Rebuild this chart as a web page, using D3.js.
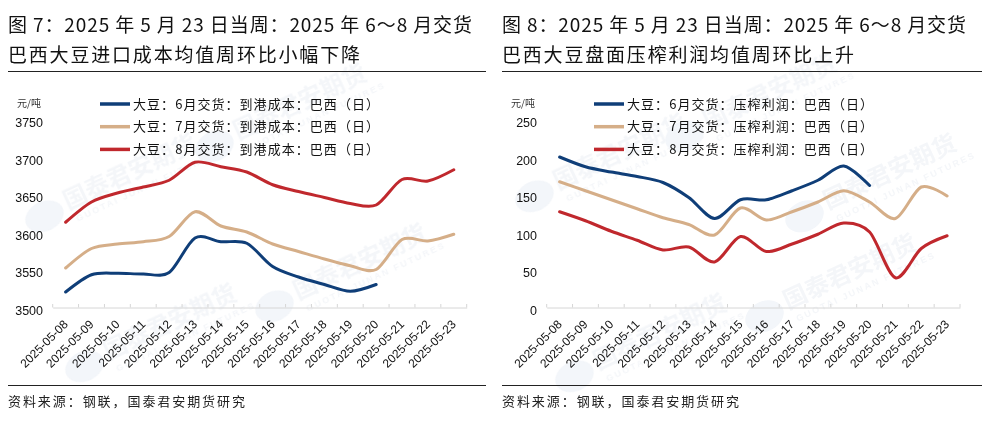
<!DOCTYPE html>
<html><head><meta charset="utf-8">
<script src="https://cdn.jsdelivr.net/npm/d3@7"></script>
<style>
html,body{margin:0;padding:0;background:#fff;}
svg{display:block;}
</style></head>
<body>
<svg id="c" width="988" height="426"></svg>
<script>
// ---- data ----
const dates = ["2025-05-08","2025-05-09","2025-05-10","2025-05-11","2025-05-12","2025-05-13","2025-05-14","2025-05-15","2025-05-16","2025-05-17","2025-05-18","2025-05-19","2025-05-20","2025-05-21","2025-05-22","2025-05-23"];
const costJun = [3520,3543,3545,3544,3546,3592,3587,3585,3554,3540,3530,3521,3530,null,null,null];
const costJul = [3552,3578,3584,3587,3594,3627,3608,3600,3584,3574,3564,3555,3550,3590,3588,3597];
const costAug = [3613,3640,3652,3660,3669,3693,3687,3680,3663,3654,3646,3638,3636,3670,3668,3683];
const profJun = [200,187,180,174,166,146,118,143,143,155,169,188,162,null,null,null];
const profJul = [167,155,143,131,119,110,96,132,116,127,140,155,140,118,160,148];
const profAug = [127,115,101,89,76,80,60,94,74,84,97,112,100,39,78,95];
const costTicks = [3500,3550,3600,3650,3700,3750];
const profTicks = [0,50,100,150,200,250];
const colors = ["#0f3e78","#d5ae88","#c0282d"];
const costNames = ["大豆：6月交货：到港成本：巴西（日）","大豆：7月交货：到港成本：巴西（日）","大豆：8月交货：到港成本：巴西（日）"];
const profNames = ["大豆：6月交货：压榨利润：巴西（日）","大豆：7月交货：压榨利润：巴西（日）","大豆：8月交货：压榨利润：巴西（日）"];

const svg = d3.select("#c");
const CJK = "'Noto Sans CJK SC','Noto Sans',sans-serif";
const NUM = "'Liberation Sans',Arial,sans-serif";

// faint watermarks (kept fully inside the picture)
const wm = svg.append("g").attr("opacity",0.5);
const wmPos = [[70,200],[240,130],[110,350],[300,290],[560,180],[710,120],[600,360],[790,300],[830,200]];
wmPos.forEach(([x,y])=>{
  const g = wm.append("g").attr("transform",`translate(${x},${y}) rotate(-25)`);
  g.append("ellipse").attr("cx",-30).attr("cy",4).attr("rx",20).attr("ry",15).attr("fill","#e6ecf4");
  g.append("text").attr("x",-6).attr("y",8).attr("font-family",CJK).attr("font-weight",700)
    .attr("font-size",24).attr("fill","#e9edf3").text("国泰君安期货");
  g.append("text").attr("x",-2).attr("y",23).attr("font-family",NUM).attr("font-weight",700)
    .attr("font-size",9).attr("letter-spacing",2).attr("fill","#e9edf3").text("GUOTAI JUNAN FUTURES");
});

function panel(ox, opt){
  const g = svg.append("g");
  // title
  g.append("text").attr("x",ox+8).attr("y",32).attr("font-family",CJK).attr("font-size",19)
    .attr("fill","#111").attr("textLength",opt.t1w).attr("lengthAdjust","spacing").text(opt.title1);
  g.append("text").attr("x",ox+8).attr("y",62).attr("font-family",CJK).attr("font-size",19)
    .attr("fill","#111").attr("textLength",opt.t2w).attr("lengthAdjust","spacing").text(opt.title2);
  g.append("line").attr("x1",ox+8).attr("x2",ox+opt.lineEnd).attr("y1",71.5).attr("y2",71.5)
    .attr("stroke","#222").attr("stroke-width",1);
  g.append("line").attr("x1",ox+8).attr("x2",ox+opt.lineEnd).attr("y1",385.5).attr("y2",385.5)
    .attr("stroke","#222").attr("stroke-width",1);
  g.append("text").attr("x",ox+8).attr("y",406).attr("font-family",CJK).attr("font-size",13)
    .attr("fill","#222").attr("textLength",237).attr("lengthAdjust","spacing").text("资料来源：钢联，国泰君安期货研究");

  // scales
  const x = d3.scaleBand().domain(dates).range([ox+opt.x0, ox+opt.x1]);
  const y = d3.scaleLinear().domain(opt.domain).range([307,119.5]);

  // unit
  g.append("text").attr("x",ox+opt.unitX).attr("y",107).attr("font-family",CJK).attr("font-size",10)
    .attr("fill","#333").text("元/吨");

  // y axis labels
  const ya = g.append("g").attr("transform",`translate(${ox+opt.yLab},0)`)
    .call(d3.axisLeft(y).tickValues(opt.ticks).tickFormat(d3.format("d")).tickSize(0).tickPadding(0));
  ya.select(".domain").remove();
  ya.selectAll("text").attr("font-family",NUM).attr("font-size",12.5).attr("fill","#111").attr("dy","0.42em")
    .attr("transform","translate(0,2)");

  // x axis
  const xa = g.append("g").attr("transform","translate(0,307.5)")
    .call(d3.axisTop(x).tickSize(3).tickSizeOuter(0).tickFormat(""));
  xa.select(".domain").attr("stroke","#d6d6d6");
  xa.selectAll(".tick line").remove();
  const edges = dates.map(d=>x(d)).concat([x(dates[dates.length-1])+x.bandwidth()]);
  g.selectAll(null).data(edges).enter().append("line")
    .attr("x1",d=>d).attr("x2",d=>d).attr("y1",304).attr("y2",307.5).attr("stroke","#d6d6d6");
  g.selectAll(null).data(dates).enter().append("text")
    .attr("transform",d=>`translate(${x(d)+x.bandwidth()/2+3},325) rotate(-45)`)
    .attr("text-anchor","end").attr("font-family",NUM).attr("font-size",12).attr("fill","#111")
    .text(d=>d);

  // lines
  const line = d3.line().defined(d=>d.v!=null)
    .x(d=>x(d.d)+x.bandwidth()/2).y(d=>y(d.v)).curve(d3.curveCardinal.tension(0.1));
  opt.series.forEach((s,i)=>{
    g.append("path").datum(dates.map((d,j)=>({d,v:s[j]})))
      .attr("d",line).attr("fill","none").attr("stroke",colors[i]).attr("stroke-width",3)
      .attr("stroke-linecap","round").attr("stroke-linejoin","round");
  });

  // legend
  opt.names.forEach((n,i)=>{
    const yy = 104 + i*22.7;
    g.append("line").attr("x1",ox+opt.legX).attr("x2",ox+opt.legX+30).attr("y1",yy).attr("y2",yy)
      .attr("stroke",colors[i]).attr("stroke-width",3.5);
    g.append("text").attr("x",ox+opt.legX+33).attr("y",yy+4.5).attr("font-family",CJK).attr("font-size",13)
      .attr("fill","#111").attr("textLength",246).attr("lengthAdjust","spacing").text(n);
  });
}

panel(0,{title1:"图 7：2025 年 5 月 23 日当周：2025 年 6～8 月交货",title2:"巴西大豆进口成本均值周环比小幅下降",
  t1w:464,t2w:352,lineEnd:486,x0:52.7,x1:466.7,domain:[3500,3750],ticks:costTicks,unitX:17,yLab:43,
  series:[costJun,costJul,costAug],names:costNames,legX:100});
panel(494,{title1:"图 8：2025 年 5 月 23 日当周：2025 年 6～8 月交货",title2:"巴西大豆盘面压榨利润均值周环比上升",
  t1w:464,t2w:352,lineEnd:488,x0:52.7,x1:466,domain:[0,250],ticks:profTicks,unitX:17,yLab:43,
  series:[profJun,profJul,profAug],names:profNames,legX:100});
</script>
</body></html>
